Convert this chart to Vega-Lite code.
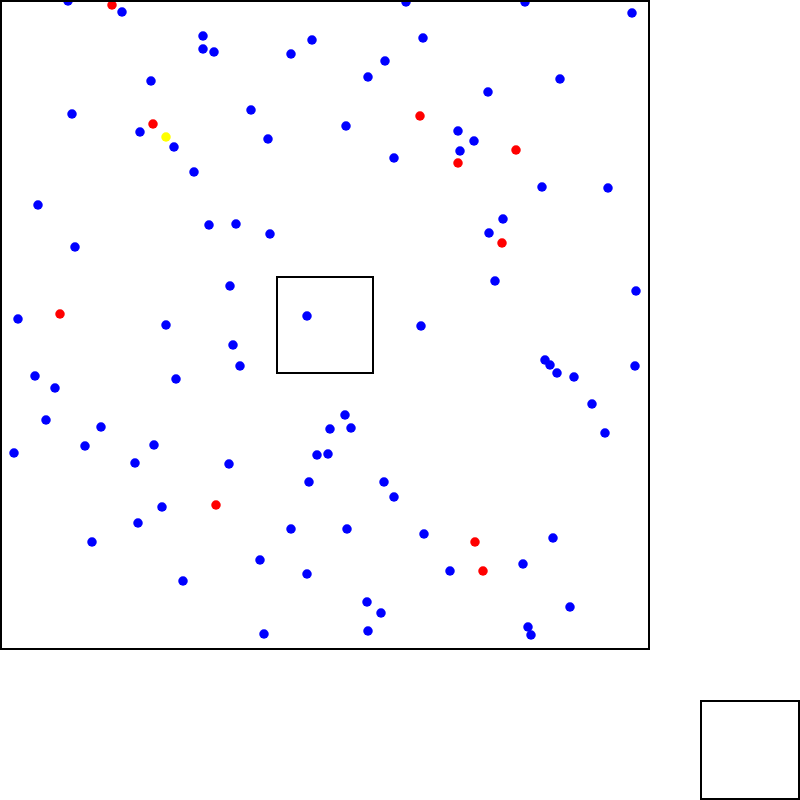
{
  "$schema": "https://vega.github.io/schema/vega-lite/v6.json",
  "width": 800,
  "height": 800,
  "autosize": {"type": "fit", "contains": "padding"},
  "padding": 0,
  "background": "white",
  "config": {"view": {"stroke": null}},
  "datasets": {
    "boxes": [
      {"x1": 1, "y1": 1, "x2": 649, "y2": 649},
      {"x1": 277, "y1": 277, "x2": 373, "y2": 373},
      {"x1": 701, "y1": 701, "x2": 799, "y2": 799}
    ],
    "pts": [
      {"x": 68, "y": 1, "c": "blue"}, {"x": 122, "y": 12, "c": "blue"}, {"x": 203, "y": 36, "c": "blue"}, {"x": 203, "y": 49, "c": "blue"},
      {"x": 214, "y": 52, "c": "blue"}, {"x": 312, "y": 40, "c": "blue"}, {"x": 291, "y": 54, "c": "blue"}, {"x": 151, "y": 81, "c": "blue"},
      {"x": 72, "y": 114, "c": "blue"}, {"x": 140, "y": 132, "c": "blue"}, {"x": 174, "y": 147, "c": "blue"}, {"x": 251, "y": 110, "c": "blue"},
      {"x": 268, "y": 139, "c": "blue"}, {"x": 194, "y": 172, "c": "blue"}, {"x": 38, "y": 205, "c": "blue"}, {"x": 209, "y": 225, "c": "blue"},
      {"x": 236, "y": 224, "c": "blue"}, {"x": 270, "y": 234, "c": "blue"}, {"x": 75, "y": 247, "c": "blue"}, {"x": 230, "y": 286, "c": "blue"},
      {"x": 307, "y": 316, "c": "blue"}, {"x": 18, "y": 319, "c": "blue"}, {"x": 166, "y": 325, "c": "blue"},
      {"x": 406, "y": 2, "c": "blue"}, {"x": 525, "y": 2, "c": "blue"}, {"x": 632, "y": 13, "c": "blue"}, {"x": 423, "y": 38, "c": "blue"},
      {"x": 385, "y": 61, "c": "blue"}, {"x": 368, "y": 77, "c": "blue"}, {"x": 560, "y": 79, "c": "blue"}, {"x": 488, "y": 92, "c": "blue"},
      {"x": 346, "y": 126, "c": "blue"}, {"x": 458, "y": 131, "c": "blue"}, {"x": 474, "y": 141, "c": "blue"}, {"x": 460, "y": 151, "c": "blue"},
      {"x": 394, "y": 158, "c": "blue"}, {"x": 542, "y": 187, "c": "blue"}, {"x": 608, "y": 188, "c": "blue"}, {"x": 503, "y": 219, "c": "blue"},
      {"x": 489, "y": 233, "c": "blue"}, {"x": 495, "y": 281, "c": "blue"}, {"x": 636, "y": 291, "c": "blue"}, {"x": 421, "y": 326, "c": "blue"},
      {"x": 233, "y": 345, "c": "blue"}, {"x": 240, "y": 366, "c": "blue"}, {"x": 35, "y": 376, "c": "blue"}, {"x": 55, "y": 388, "c": "blue"},
      {"x": 176, "y": 379, "c": "blue"}, {"x": 46, "y": 420, "c": "blue"}, {"x": 101, "y": 427, "c": "blue"}, {"x": 85, "y": 446, "c": "blue"},
      {"x": 154, "y": 445, "c": "blue"}, {"x": 14, "y": 453, "c": "blue"}, {"x": 135, "y": 463, "c": "blue"}, {"x": 229, "y": 464, "c": "blue"},
      {"x": 309, "y": 482, "c": "blue"}, {"x": 317, "y": 455, "c": "blue"}, {"x": 162, "y": 507, "c": "blue"}, {"x": 138, "y": 523, "c": "blue"},
      {"x": 92, "y": 542, "c": "blue"}, {"x": 291, "y": 529, "c": "blue"}, {"x": 260, "y": 560, "c": "blue"}, {"x": 307, "y": 574, "c": "blue"},
      {"x": 183, "y": 581, "c": "blue"}, {"x": 264, "y": 634, "c": "blue"},
      {"x": 545, "y": 360, "c": "blue"}, {"x": 550, "y": 365, "c": "blue"}, {"x": 557, "y": 373, "c": "blue"}, {"x": 574, "y": 377, "c": "blue"},
      {"x": 635, "y": 366, "c": "blue"}, {"x": 592, "y": 404, "c": "blue"}, {"x": 605, "y": 433, "c": "blue"}, {"x": 345, "y": 415, "c": "blue"},
      {"x": 330, "y": 429, "c": "blue"}, {"x": 351, "y": 428, "c": "blue"}, {"x": 328, "y": 454, "c": "blue"}, {"x": 384, "y": 482, "c": "blue"},
      {"x": 394, "y": 497, "c": "blue"}, {"x": 347, "y": 529, "c": "blue"}, {"x": 424, "y": 534, "c": "blue"}, {"x": 553, "y": 538, "c": "blue"},
      {"x": 450, "y": 571, "c": "blue"}, {"x": 523, "y": 564, "c": "blue"}, {"x": 570, "y": 607, "c": "blue"}, {"x": 367, "y": 602, "c": "blue"},
      {"x": 381, "y": 613, "c": "blue"}, {"x": 368, "y": 631, "c": "blue"}, {"x": 528, "y": 627, "c": "blue"}, {"x": 531, "y": 635, "c": "blue"},
      {"x": 112, "y": 5, "c": "red"}, {"x": 153, "y": 124, "c": "red"}, {"x": 60, "y": 314, "c": "red"}, {"x": 420, "y": 116, "c": "red"},
      {"x": 516, "y": 150, "c": "red"}, {"x": 458, "y": 163, "c": "red"}, {"x": 502, "y": 243, "c": "red"}, {"x": 216, "y": 505, "c": "red"},
      {"x": 475, "y": 542, "c": "red"}, {"x": 483, "y": 571, "c": "red"},
      {"x": 166, "y": 137, "c": "yellow"}
    ]
  },
  "layer": [
    {
      "data": {"name": "pts"},
      "mark": {"type": "point", "shape": "circle", "filled": true, "size": 90, "opacity": 1, "strokeWidth": 0, "clip": true},
      "encoding": {
        "x": {"field": "x", "type": "quantitative", "scale": {"domain": [0, 800], "nice": false, "zero": false}, "axis": null},
        "y": {"field": "y", "type": "quantitative", "scale": {"domain": [0, 800], "nice": false, "zero": false, "reverse": true}, "axis": null},
        "color": {"field": "c", "type": "nominal", "scale": {"domain": ["blue", "red", "yellow"], "range": ["#0000ff", "#ff0000", "#ffff00"]}, "legend": null}
      }
    },
    {
      "data": {"name": "boxes"},
      "mark": {"type": "rect", "fillOpacity": 0, "stroke": "black", "strokeWidth": 2, "clip": true},
      "encoding": {
        "x": {"field": "x1", "type": "quantitative"},
        "x2": {"field": "x2"},
        "y": {"field": "y1", "type": "quantitative"},
        "y2": {"field": "y2"}
      }
    }
  ]
}
